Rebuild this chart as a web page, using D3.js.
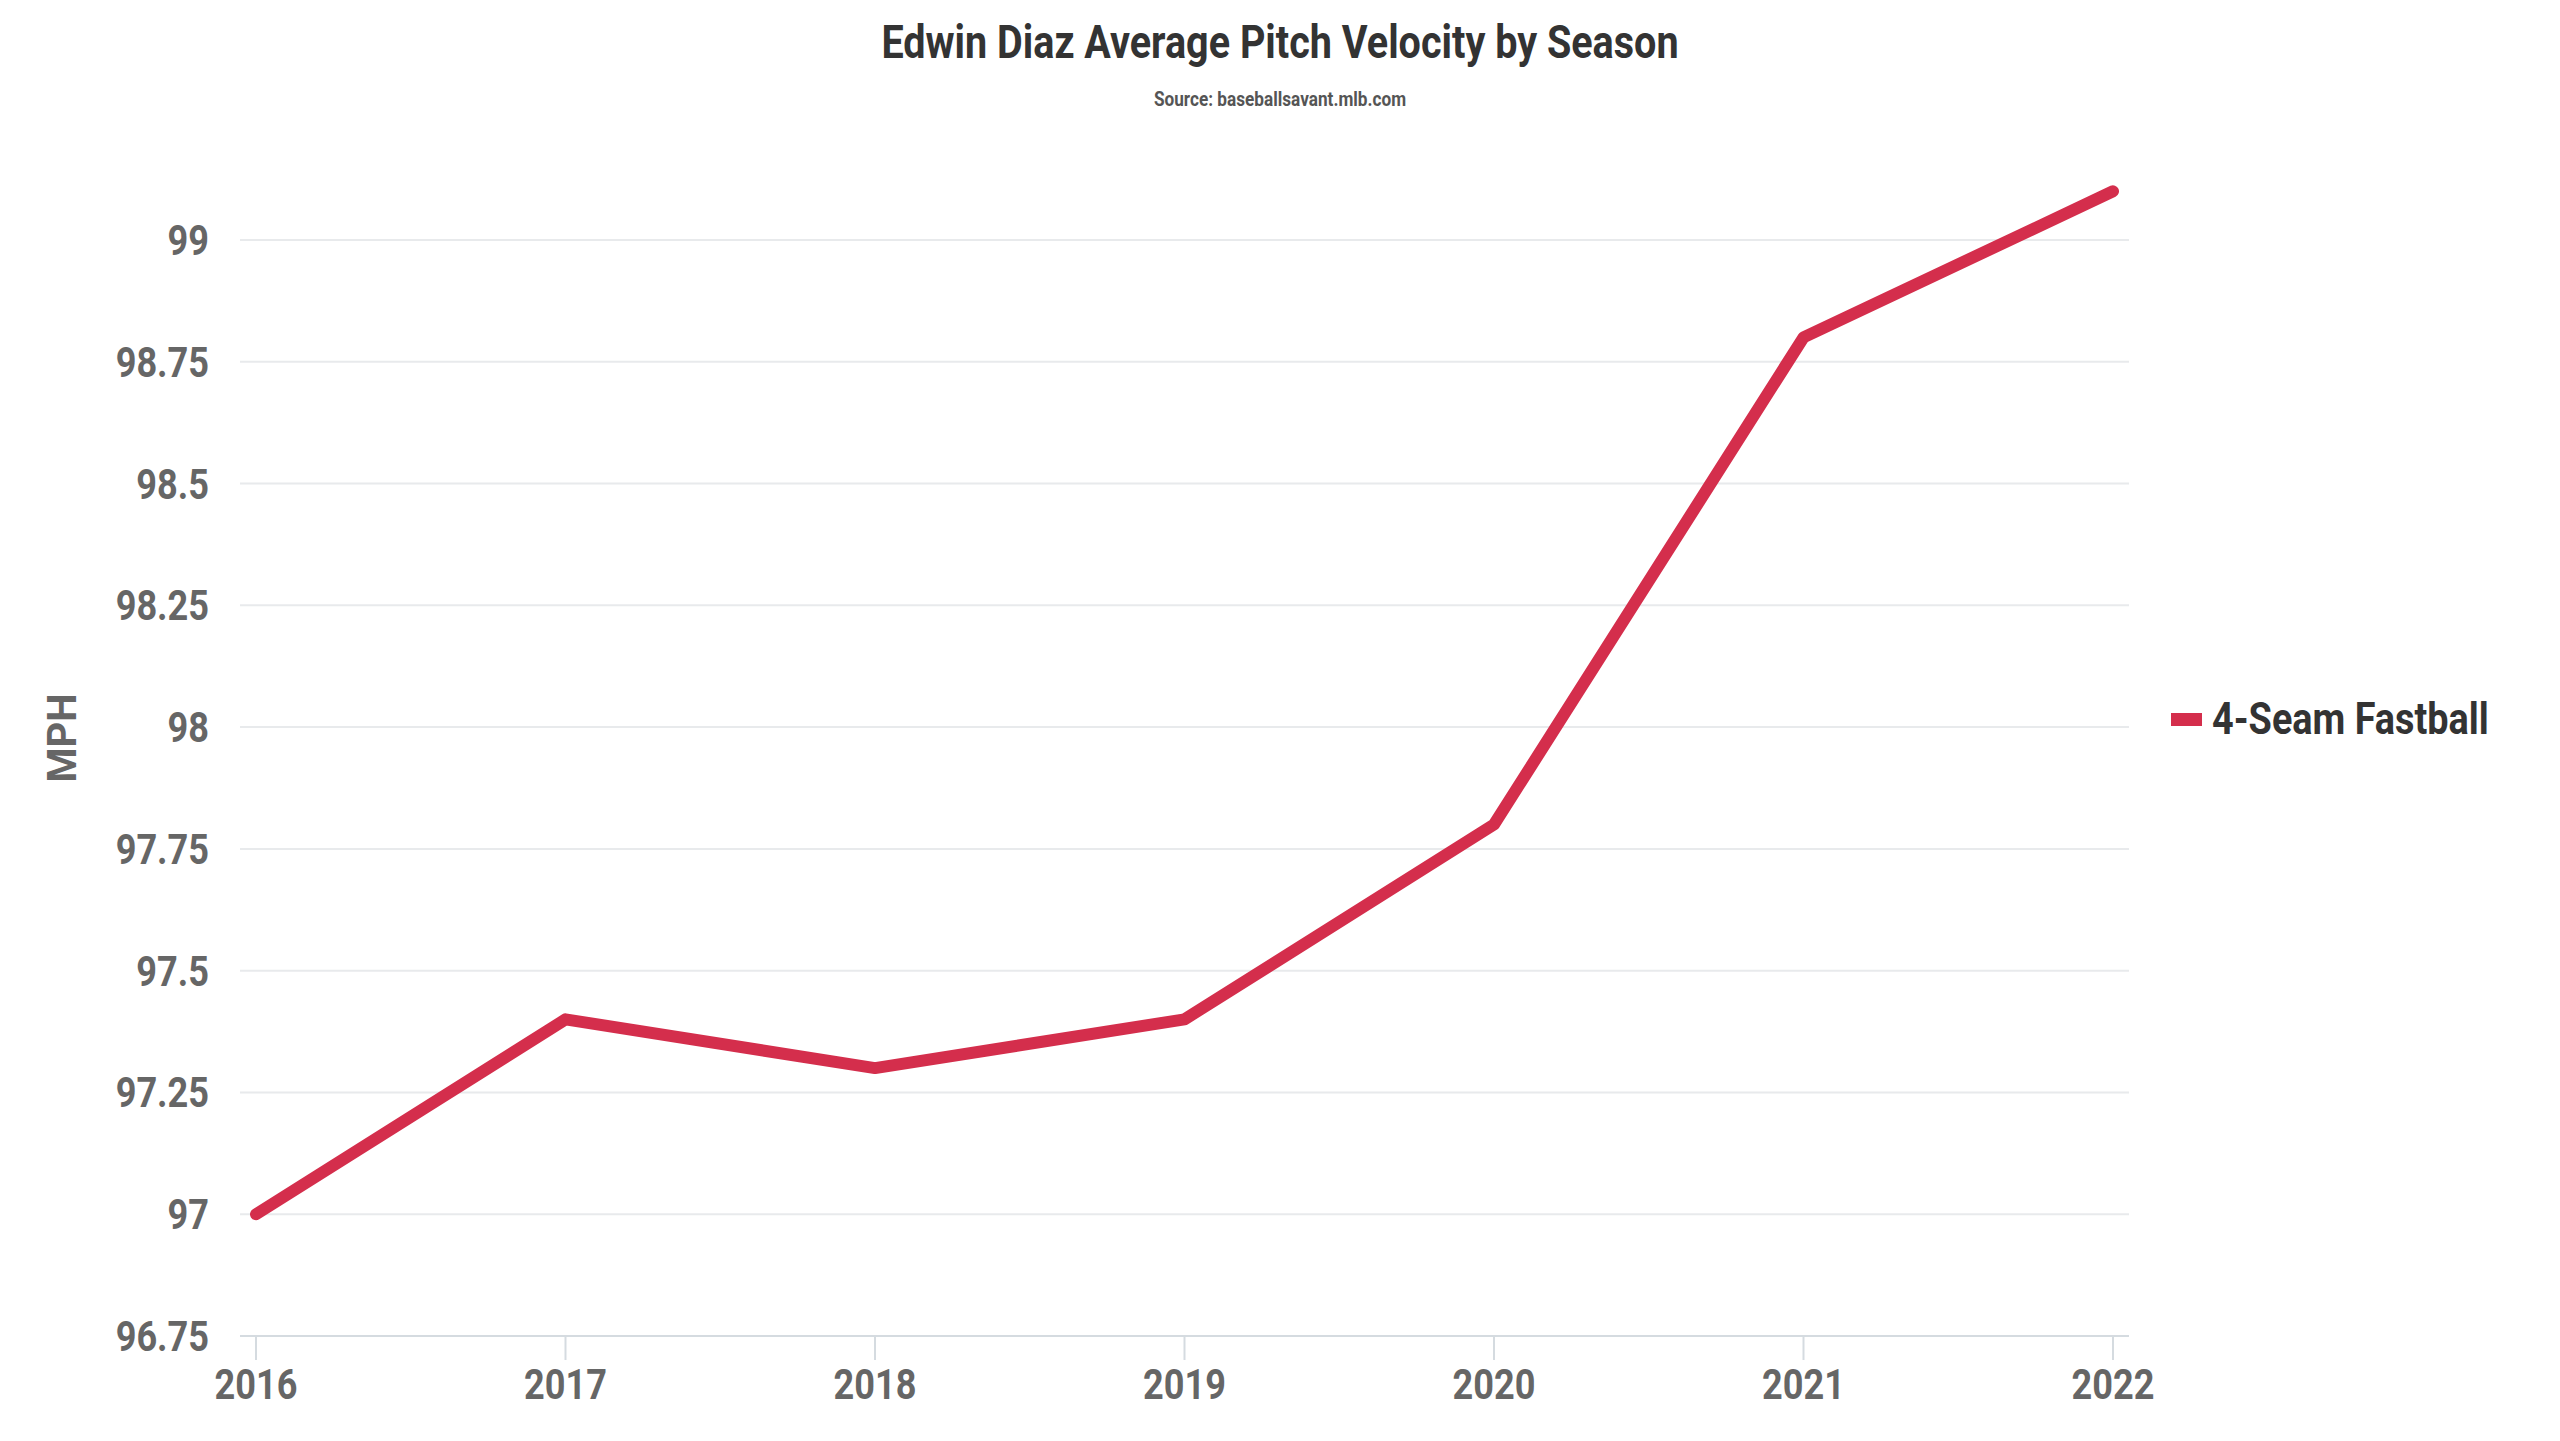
<!DOCTYPE html>
<html><head><meta charset="utf-8">
<script src="https://cdn.jsdelivr.net/npm/d3@7"></script>
<style>body{margin:0;background:#fff}text{font-family:Roboto,sans-serif}</style>
</head><body>
<svg id="c" width="2560" height="1441"></svg>
<script>
const years = [2016, 2017, 2018, 2019, 2020, 2021, 2022];
const velocity = [97.0, 97.4, 97.3, 97.4, 97.8, 98.8, 99.1];
const yTicks = [96.75, 97, 97.25, 97.5, 97.75, 98, 98.25, 98.5, 98.75, 99];
const seriesName = "4-Seam Fastball";
const svg = d3.select("#c");
const x = d3.scalePoint().domain(years).range([256, 2113]);
const y = d3.scaleLinear().domain([96.75, 99]).range([1336, 240]);
const cond = "scale(0.86,1)";
function ctext(g, x0, y0, txt, size, color, anchor) {
  return g.append("text").attr("transform", `translate(${x0},${y0}) ${cond}`)
    .attr("text-anchor", anchor).attr("font-size", size).attr("font-weight", 700)
    .attr("fill", color).text(txt);
}
ctext(svg, 1280, 58, "Edwin Diaz Average Pitch Velocity by Season", 46, "#333", "middle");
ctext(svg, 1280, 106, "Source: baseballsavant.mlb.com", 20, "#555", "middle");
// grid
svg.append("g").selectAll("line").data(yTicks).join("line")
  .attr("x1", 240).attr("x2", 2129).attr("y1", d => y(d)).attr("y2", d => y(d))
  .attr("stroke", d => d === 96.75 ? "#d5dbe0" : "#e8eaec").attr("stroke-width", 2);
// x ticks
svg.append("g").selectAll("line").data(years).join("line")
  .attr("x1", d => x(d)).attr("x2", d => x(d)).attr("y1", 1337).attr("y2", 1360)
  .attr("stroke", "#d5dbe0").attr("stroke-width", 2);
const yl = svg.append("g");
yTicks.forEach(t => ctext(yl, 209, y(t) + 15, String(t), 42, "#666", "end"));
const xl = svg.append("g");
years.forEach(t => ctext(xl, x(t), 1399, String(t), 42, "#666", "middle"));
svg.append("text").attr("transform", "translate(76,738) rotate(-90)")
  .attr("text-anchor", "middle").attr("font-size", 40).attr("font-weight", 700)
  .attr("fill", "#666").text("MPH");
svg.append("path").datum(years.map((yr, i) => [yr, velocity[i]]))
  .attr("d", d3.line().x(d => x(d[0])).y(d => y(d[1])))
  .attr("fill", "none").attr("stroke", "#d42e4c").attr("stroke-width", 12)
  .attr("stroke-linecap", "round").attr("stroke-linejoin", "round");
svg.append("rect").attr("x", 2171).attr("y", 713).attr("width", 31).attr("height", 13).attr("fill", "#d42e4c");
ctext(svg, 2212, 734, seriesName, 44, "#333", "start");
</script>
</body></html>
